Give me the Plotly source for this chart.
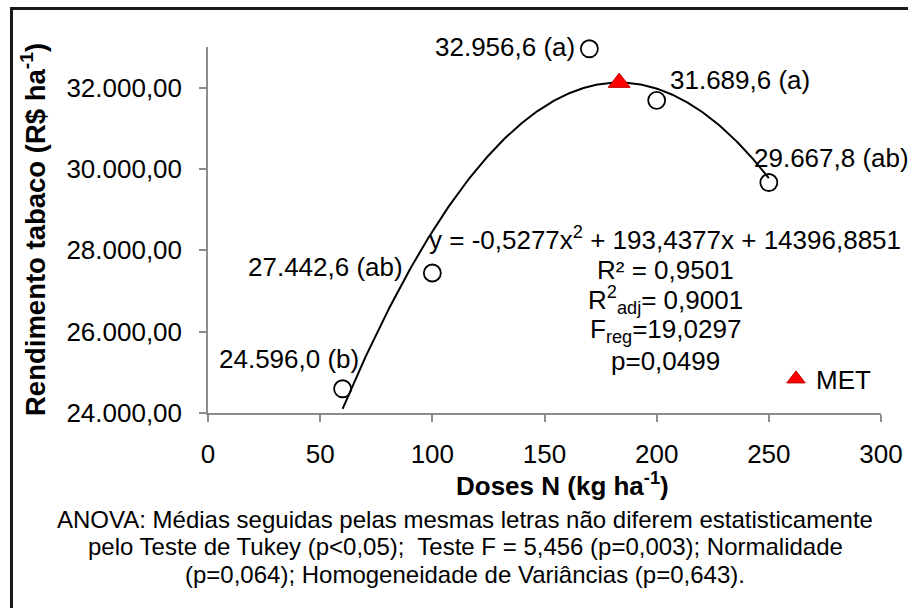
import numpy as np
import plotly.graph_objects as go

# ---------------- data ----------------
doses = [60, 100, 170, 200, 250]                       # kg ha-1
means = [24596.0, 27442.6, 32956.6, 31689.6, 29667.8]  # R$ ha-1
letters = ["b", "ab", "a", "a", "ab"]
mean_labels = ["24.596,0 (b)", "27.442,6 (ab)", "32.956,6 (a)", "31.689,6 (a)", "29.667,8 (ab)"]

trend_coef = [-0.5277, 193.4377, 14396.8851]   # a x^2 + b x + c (equation printed on chart)
trend_x_range = [60, 250]

met_x = [183.3]
met_y = [32124.0]

y_tickvals = [24000, 26000, 28000, 30000, 32000]
x_tickvals = [0, 50, 100, 150, 200, 250, 300]

# ---------------- layout geometry (pixels) ----------------
W, H = 908, 608
L, R, T, B = 208, 27, 47, 195
PW, PH = W - L - R, H - T - B
FONT = "Liberation Sans, Arial, sans-serif"


def px_x(p):
    return (p - L) / PW


def px_y(p):
    return (H - B - p) / PH


fig = go.Figure()

# trend line
a, b, c = trend_coef
tx = np.linspace(trend_x_range[0], trend_x_range[1], 300)
ty = a * tx ** 2 + b * tx + c
fig.add_trace(go.Scatter(x=tx, y=ty, mode="lines", line=dict(color="black", width=2),
                         showlegend=False, hoverinfo="skip", cliponaxis=False))

# means
fig.add_trace(go.Scatter(x=doses, y=means, mode="markers", cliponaxis=False,
                         marker=dict(symbol="circle-open", size=17, color="black",
                                     line=dict(width=1.8)),
                         showlegend=False))

# MET
fig.add_trace(go.Scatter(x=met_x, y=met_y, mode="markers", name="MET", cliponaxis=False,
                         marker=dict(symbol="triangle-up", size=19, color="#FF0000",
                                     line=dict(color="#C00000", width=1)),
                         showlegend=True))

annotations = []
# point labels: (xanchor, xshift, yshift)
label_style = [("right", 18, 30), ("right", -27, 6), ("right", -12, 2),
               ("left", 11, 20), ("left", -17, 25)]
for xv, yv, txt, (xa, xs, ys) in zip(doses, means, mean_labels, label_style):
    annotations.append(dict(x=xv, y=yv, xref="x", yref="y", text=txt, showarrow=False,
                            xanchor=xa, yanchor="middle", xshift=xs, yshift=ys,
                            font=dict(family=FONT, size=26, color="black")))

# equation block
eq_lines = [
    ("y = -0,5277x<sup>2</sup> + 193,4377x + 14396,8851", 238.5),
    ("R² = 0,9501", 269.5),
    ("R<sup>2</sup><sub>adj</sub>= 0,9001", 299.5),
    ("F<sub>reg</sub>=19,0297", 330.5),
    ("p=0,0499", 360.5),
]
for txt, py in eq_lines:
    annotations.append(dict(x=px_x(665), y=px_y(py), xref="paper", yref="paper", text=txt,
                            showarrow=False, xanchor="center", yanchor="middle",
                            font=dict(family=FONT, size=26, color="black")))

# axis titles
annotations.append(dict(x=px_x(562), y=px_y(484), xref="paper", yref="paper",
                        text="<b>Doses N (kg ha<sup>-1</sup>)</b>", showarrow=False,
                        xanchor="center", yanchor="middle",
                        font=dict(family=FONT, size=26, color="black")))
annotations.append(dict(x=px_x(33), y=px_y(230), xref="paper", yref="paper",
                        text="<b>Rendimento tabaco (R$ ha<sup>-1</sup>)</b>", showarrow=False,
                        textangle=-90, xanchor="center", yanchor="middle",
                        font=dict(family=FONT, size=27.5, color="black")))

# ANOVA note
note_lines = [
    ("ANOVA: Médias seguidas pelas mesmas letras não diferem estatisticamente", 519),
    ("pelo Teste de Tukey (p&lt;0,05);  Teste F = 5,456 (p=0,003); Normalidade", 546.5),
    ("(p=0,064); Homogeneidade de Variâncias (p=0,643).", 574),
]
for txt, py in note_lines:
    annotations.append(dict(x=px_x(465), y=px_y(py), xref="paper", yref="paper", text=txt,
                            showarrow=False, xanchor="center", yanchor="middle",
                            font=dict(family=FONT, size=24, color="black")))

fig.update_layout(
    width=W, height=H,
    margin=dict(l=L, r=R, t=T, b=B, pad=0),
    paper_bgcolor="white", plot_bgcolor="white",
    separators=",.",
    font=dict(family=FONT, size=26, color="black"),
    annotations=annotations,
    showlegend=True,
    legend=dict(x=px_x(776), y=px_y(379), xanchor="left", yanchor="middle",
                bgcolor="rgba(0,0,0,0)", borderwidth=0,
                font=dict(family=FONT, size=26, color="black")),
    shapes=[dict(type="rect", xref="paper", yref="paper",
                 x0=px_x(11.5), y0=px_y(8.5), x1=px_x(930), y1=px_y(630),
                 line=dict(color="#1a1a1a", width=3), fillcolor="rgba(0,0,0,0)")],
)

fig.update_xaxes(range=[0, 300], tickvals=x_tickvals, showgrid=False, zeroline=False,
                 automargin=False,
                 showline=True, linecolor="#8c8c8c", linewidth=1.5,
                 ticks="outside", ticklen=7, tickwidth=1.5, tickcolor="#8c8c8c",
                 ticklabelstandoff=10,
                 tickfont=dict(family=FONT, size=26, color="black"))
fig.update_yaxes(range=[24000, 33000], tickvals=y_tickvals, tickformat=",.2f",
                 showgrid=False, zeroline=False, automargin=False,
                 showline=True, linecolor="#8c8c8c", linewidth=1.5,
                 ticks="outside", ticklen=7, tickwidth=1.5, tickcolor="#8c8c8c",
                 ticklabelstandoff=12,
                 tickfont=dict(family=FONT, size=26, color="black"))

fig.write_html("out.html")
